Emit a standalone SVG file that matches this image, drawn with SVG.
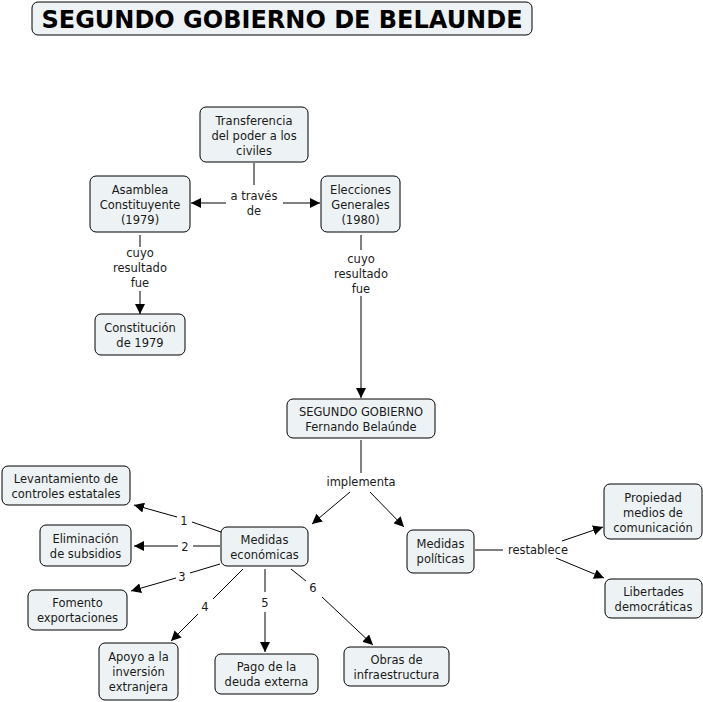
<svg xmlns="http://www.w3.org/2000/svg" width="703" height="702" viewBox="0 0 703 702">
<defs>
<style>
.n rect{fill:#edf3f4;stroke:#000;stroke-width:1}
text{font-family:"DejaVu Sans",Verdana,sans-serif;font-size:11.5px;fill:#1a1a1a;text-anchor:middle}
.c line{stroke:#000;stroke-width:1}
.c line.a{marker-end:url(#ah)}
.t{font-weight:bold;font-size:24px;fill:#000}
</style>
<marker id="ah" viewBox="0 0 10 10" refX="10" refY="5" markerWidth="10" markerHeight="10" markerUnits="userSpaceOnUse" orient="auto">
<path d="M0,0 L10,5 L0,10 z" fill="#000"/>
</marker>
</defs>
<rect width="703" height="702" fill="#fff"/>
<g id="title" class="n"><rect x="32" y="2" width="500" height="33" rx="6"/><text class="t" x="282" y="27.5">SEGUNDO GOBIERNO DE BELAUNDE</text></g>

<g class="c" id="connectors">
<line x1="254" y1="163" x2="254" y2="185"/>
<line class="a" x1="226" y1="203" x2="191" y2="203"/>
<line class="a" x1="283" y1="203" x2="320" y2="203"/>
<line x1="140" y1="235" x2="140" y2="247"/>
<line class="a" x1="140" y1="291" x2="140" y2="314"/>
<line x1="361" y1="235" x2="361" y2="250"/>
<line class="a" x1="361" y1="296" x2="361" y2="398"/>
<line x1="361" y1="440" x2="361" y2="473"/>
<line class="a" x1="350" y1="492" x2="312" y2="524"/>
<line class="a" x1="370" y1="492" x2="404" y2="527"/>
<line x1="221" y1="532" x2="192" y2="522"/>
<line class="a" x1="177" y1="517" x2="134" y2="505"/>
<line x1="220" y1="546" x2="193" y2="546"/>
<line class="a" x1="178" y1="546" x2="134" y2="546"/>
<line x1="220" y1="564" x2="190" y2="573"/>
<line class="a" x1="176" y1="578" x2="131" y2="591"/>
<line x1="243" y1="569" x2="213" y2="599"/>
<line class="a" x1="198" y1="614" x2="171" y2="641"/>
<line x1="265" y1="569" x2="265" y2="592"/>
<line class="a" x1="265" y1="612" x2="265" y2="652"/>
<line x1="291" y1="569" x2="306" y2="581"/>
<line class="a" x1="322" y1="597" x2="373" y2="645"/>
<line x1="475" y1="550" x2="503" y2="550"/>
<line class="a" x1="562" y1="541" x2="603" y2="527"/>
<line class="a" x1="556" y1="558" x2="604" y2="578"/>
</g>

<g id="labels">
<text x="254" y="200">a través</text><text x="254" y="215">de</text>
<text x="140" y="257">cuyo</text><text x="140" y="272">resultado</text><text x="140" y="287">fue</text>
<text x="361" y="263">cuyo</text><text x="361" y="278">resultado</text><text x="361" y="293">fue</text>
<text x="361" y="486">implementa</text>
<text x="184" y="525">1</text>
<text x="185" y="551">2</text>
<text x="182" y="581">3</text>
<text x="205" y="611">4</text>
<text x="265" y="607">5</text>
<text x="313" y="592">6</text>
<text x="538" y="554">restablece</text>
</g>

<g id="n-transferencia" class="n"><rect x="200" y="107" width="108" height="55" rx="6"/><text x="254" y="125">Transferencia</text><text x="254" y="140">del poder a los</text><text x="254" y="155">civiles</text></g>
<g id="n-asamblea" class="n"><rect x="90" y="176" width="100" height="56" rx="6"/><text x="140" y="194">Asamblea</text><text x="140" y="209">Constituyente</text><text x="140" y="224">(1979)</text></g>
<g id="n-elecciones" class="n"><rect x="321" y="176" width="79" height="56" rx="6"/><text x="360.5" y="194">Elecciones</text><text x="360.5" y="209">Generales</text><text x="360.5" y="224">(1980)</text></g>
<g id="n-constitucion" class="n"><rect x="95" y="314" width="90" height="41" rx="6"/><text x="140" y="332">Constitución</text><text x="140" y="347">de 1979</text></g>
<g id="n-segundo" class="n"><rect x="287" y="399" width="148" height="39" rx="6"/><text x="361" y="416">SEGUNDO GOBIERNO</text><text x="361" y="431">Fernando Belaúnde</text></g>
<g id="n-levantamiento" class="n"><rect x="2" y="466" width="128" height="39" rx="6"/><text x="66" y="483">Levantamiento de</text><text x="66" y="498">controles estatales</text></g>
<g id="n-eliminacion" class="n"><rect x="40" y="525" width="91" height="41" rx="6"/><text x="85.5" y="543">Eliminación</text><text x="85.5" y="558">de subsidios</text></g>
<g id="n-fomento" class="n"><rect x="28" y="590" width="99" height="40" rx="6"/><text x="77.5" y="607">Fomento</text><text x="77.5" y="622">exportaciones</text></g>
<g id="n-economicas" class="n"><rect x="221" y="527" width="87" height="39" rx="6"/><text x="264.5" y="544">Medidas</text><text x="264.5" y="559">económicas</text></g>
<g id="n-politicas" class="n"><rect x="407" y="530" width="67" height="43" rx="6"/><text x="440.5" y="548">Medidas</text><text x="440.5" y="563">políticas</text></g>
<g id="n-propiedad" class="n"><rect x="604" y="484" width="98" height="55" rx="6"/><text x="653" y="502">Propiedad</text><text x="653" y="517">medios de</text><text x="653" y="532">comunicación</text></g>
<g id="n-libertades" class="n"><rect x="605" y="579" width="97" height="39" rx="6"/><text x="653.5" y="596">Libertades</text><text x="653.5" y="611">democráticas</text></g>
<g id="n-apoyo" class="n"><rect x="99" y="643" width="79" height="57" rx="6"/><text x="138.5" y="661">Apoyo a la</text><text x="138.5" y="676">inversión</text><text x="138.5" y="691">extranjera</text></g>
<g id="n-pago" class="n"><rect x="215" y="654" width="103" height="40" rx="6"/><text x="266.5" y="671">Pago de la</text><text x="266.5" y="686">deuda externa</text></g>
<g id="n-obras" class="n"><rect x="344" y="647" width="105" height="39" rx="6"/><text x="396.5" y="664">Obras de</text><text x="396.5" y="679">infraestructura</text></g>
</svg>
